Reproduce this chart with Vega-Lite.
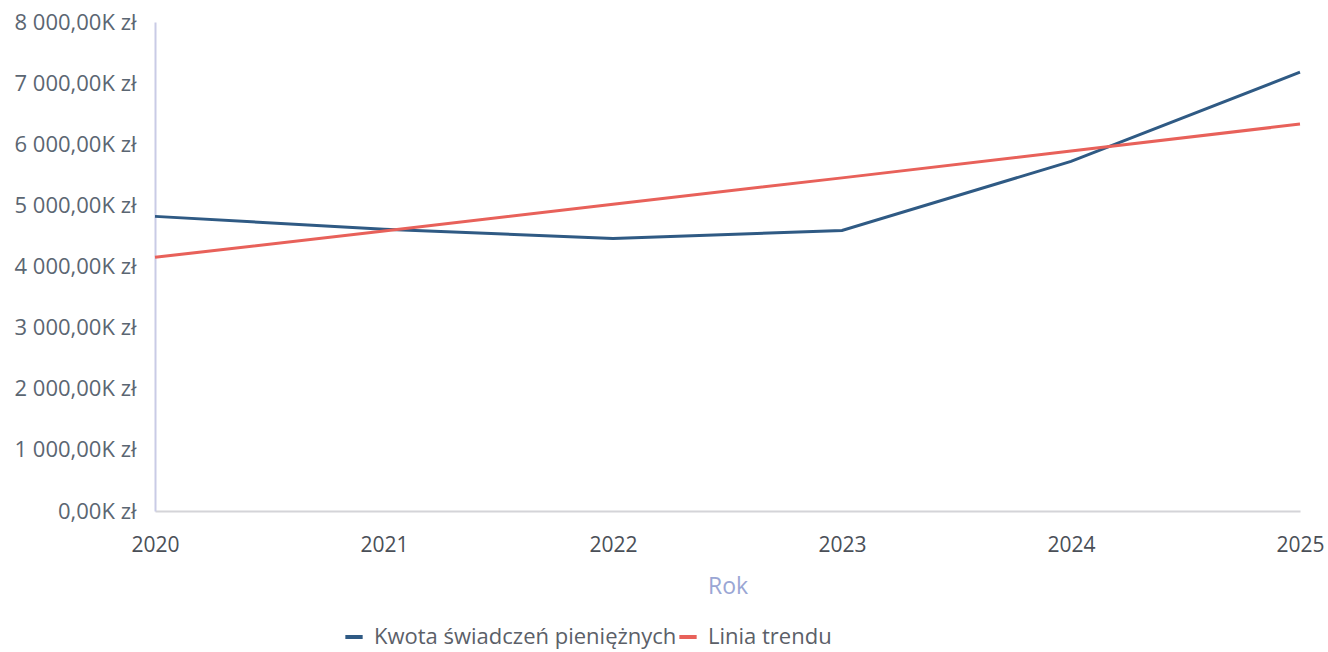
{
  "$schema": "https://vega.github.io/schema/vega-lite/v6.json",
  "autosize": {"type": "none"},
  "padding": {"left": 155, "top": 22, "right": 28, "bottom": 141},
  "width": 1145,
  "height": 489,
  "background": "white",
  "data": {
    "values": [
      {"Rok": 2020, "value": 4820, "series": "Kwota świadczeń pieniężnych"},
      {"Rok": 2021, "value": 4610, "series": "Kwota świadczeń pieniężnych"},
      {"Rok": 2022, "value": 4460, "series": "Kwota świadczeń pieniężnych"},
      {"Rok": 2023, "value": 4590, "series": "Kwota świadczeń pieniężnych"},
      {"Rok": 2024, "value": 5720, "series": "Kwota świadczeń pieniężnych"},
      {"Rok": 2025, "value": 7180, "series": "Kwota świadczeń pieniężnych"},
      {"Rok": 2020, "value": 4150, "series": "Linia trendu"},
      {"Rok": 2021, "value": 4580, "series": "Linia trendu"},
      {"Rok": 2022, "value": 5020, "series": "Linia trendu"},
      {"Rok": 2023, "value": 5450, "series": "Linia trendu"},
      {"Rok": 2024, "value": 5890, "series": "Linia trendu"},
      {"Rok": 2025, "value": 6330, "series": "Linia trendu"}
    ]
  },
  "mark": {"type": "line", "strokeWidth": 3, "interpolate": "linear"},
  "encoding": {
    "x": {
      "field": "Rok", "type": "quantitative",
      "scale": {"domain": [2020, 2025], "nice": false, "zero": false},
      "axis": {
        "values": [2020, 2021, 2022, 2023, 2024, 2025],
        "format": "d",
        "title": "Rok",
        "titleColor": "#9aa6d4",
        "titleFont": "Open Sans",
        "titleFontSize": 23,
        "titleFontWeight": "normal",
        "titlePadding": 20,
        "labelFont": "Open Sans",
        "labelFontSize": 21,
        "labelColor": "#4a4f57",
        "labelPadding": 23,
        "labelFlush": false,
        "ticks": false,
        "grid": false,
        "domainColor": "#d4d4d8",
        "domainWidth": 2
      }
    },
    "y": {
      "field": "value", "type": "quantitative",
      "scale": {"domain": [0, 8000], "nice": false},
      "axis": {
        "values": [0, 1000, 2000, 3000, 4000, 5000, 6000, 7000, 8000],
        "labelExpr": "replace(replace(format(datum.value, ',.2f'), ',', ' '), '.', ',') + 'K zł'",
        "title": null,
        "labelFont": "Open Sans",
        "labelFontSize": 22,
        "labelColor": "#5b6672",
        "labelPadding": 19,
        "labelLimit": 0,
        "ticks": false,
        "grid": false,
        "domainColor": "#c9cbe6",
        "domainWidth": 2
      }
    },
    "color": {
      "field": "series", "type": "nominal",
      "scale": {
        "domain": ["Kwota świadczeń pieniężnych", "Linia trendu"],
        "range": ["#2f5a84", "#e8615a"]
      },
      "legend": {
        "title": null,
        "orient": "none",
        "legendX": 188,
        "legendY": 604,
        "direction": "horizontal",
        "symbolType": "stroke",
        "symbolStrokeWidth": 4,
        "symbolSize": 300,
        "labelFont": "Open Sans",
        "labelFontSize": 22,
        "labelColor": "#5b6068",
        "labelLimit": 0,
        "columnPadding": -14,
        "labelOffset": 9
      }
    }
  },
  "config": {"view": {"stroke": null}}
}
